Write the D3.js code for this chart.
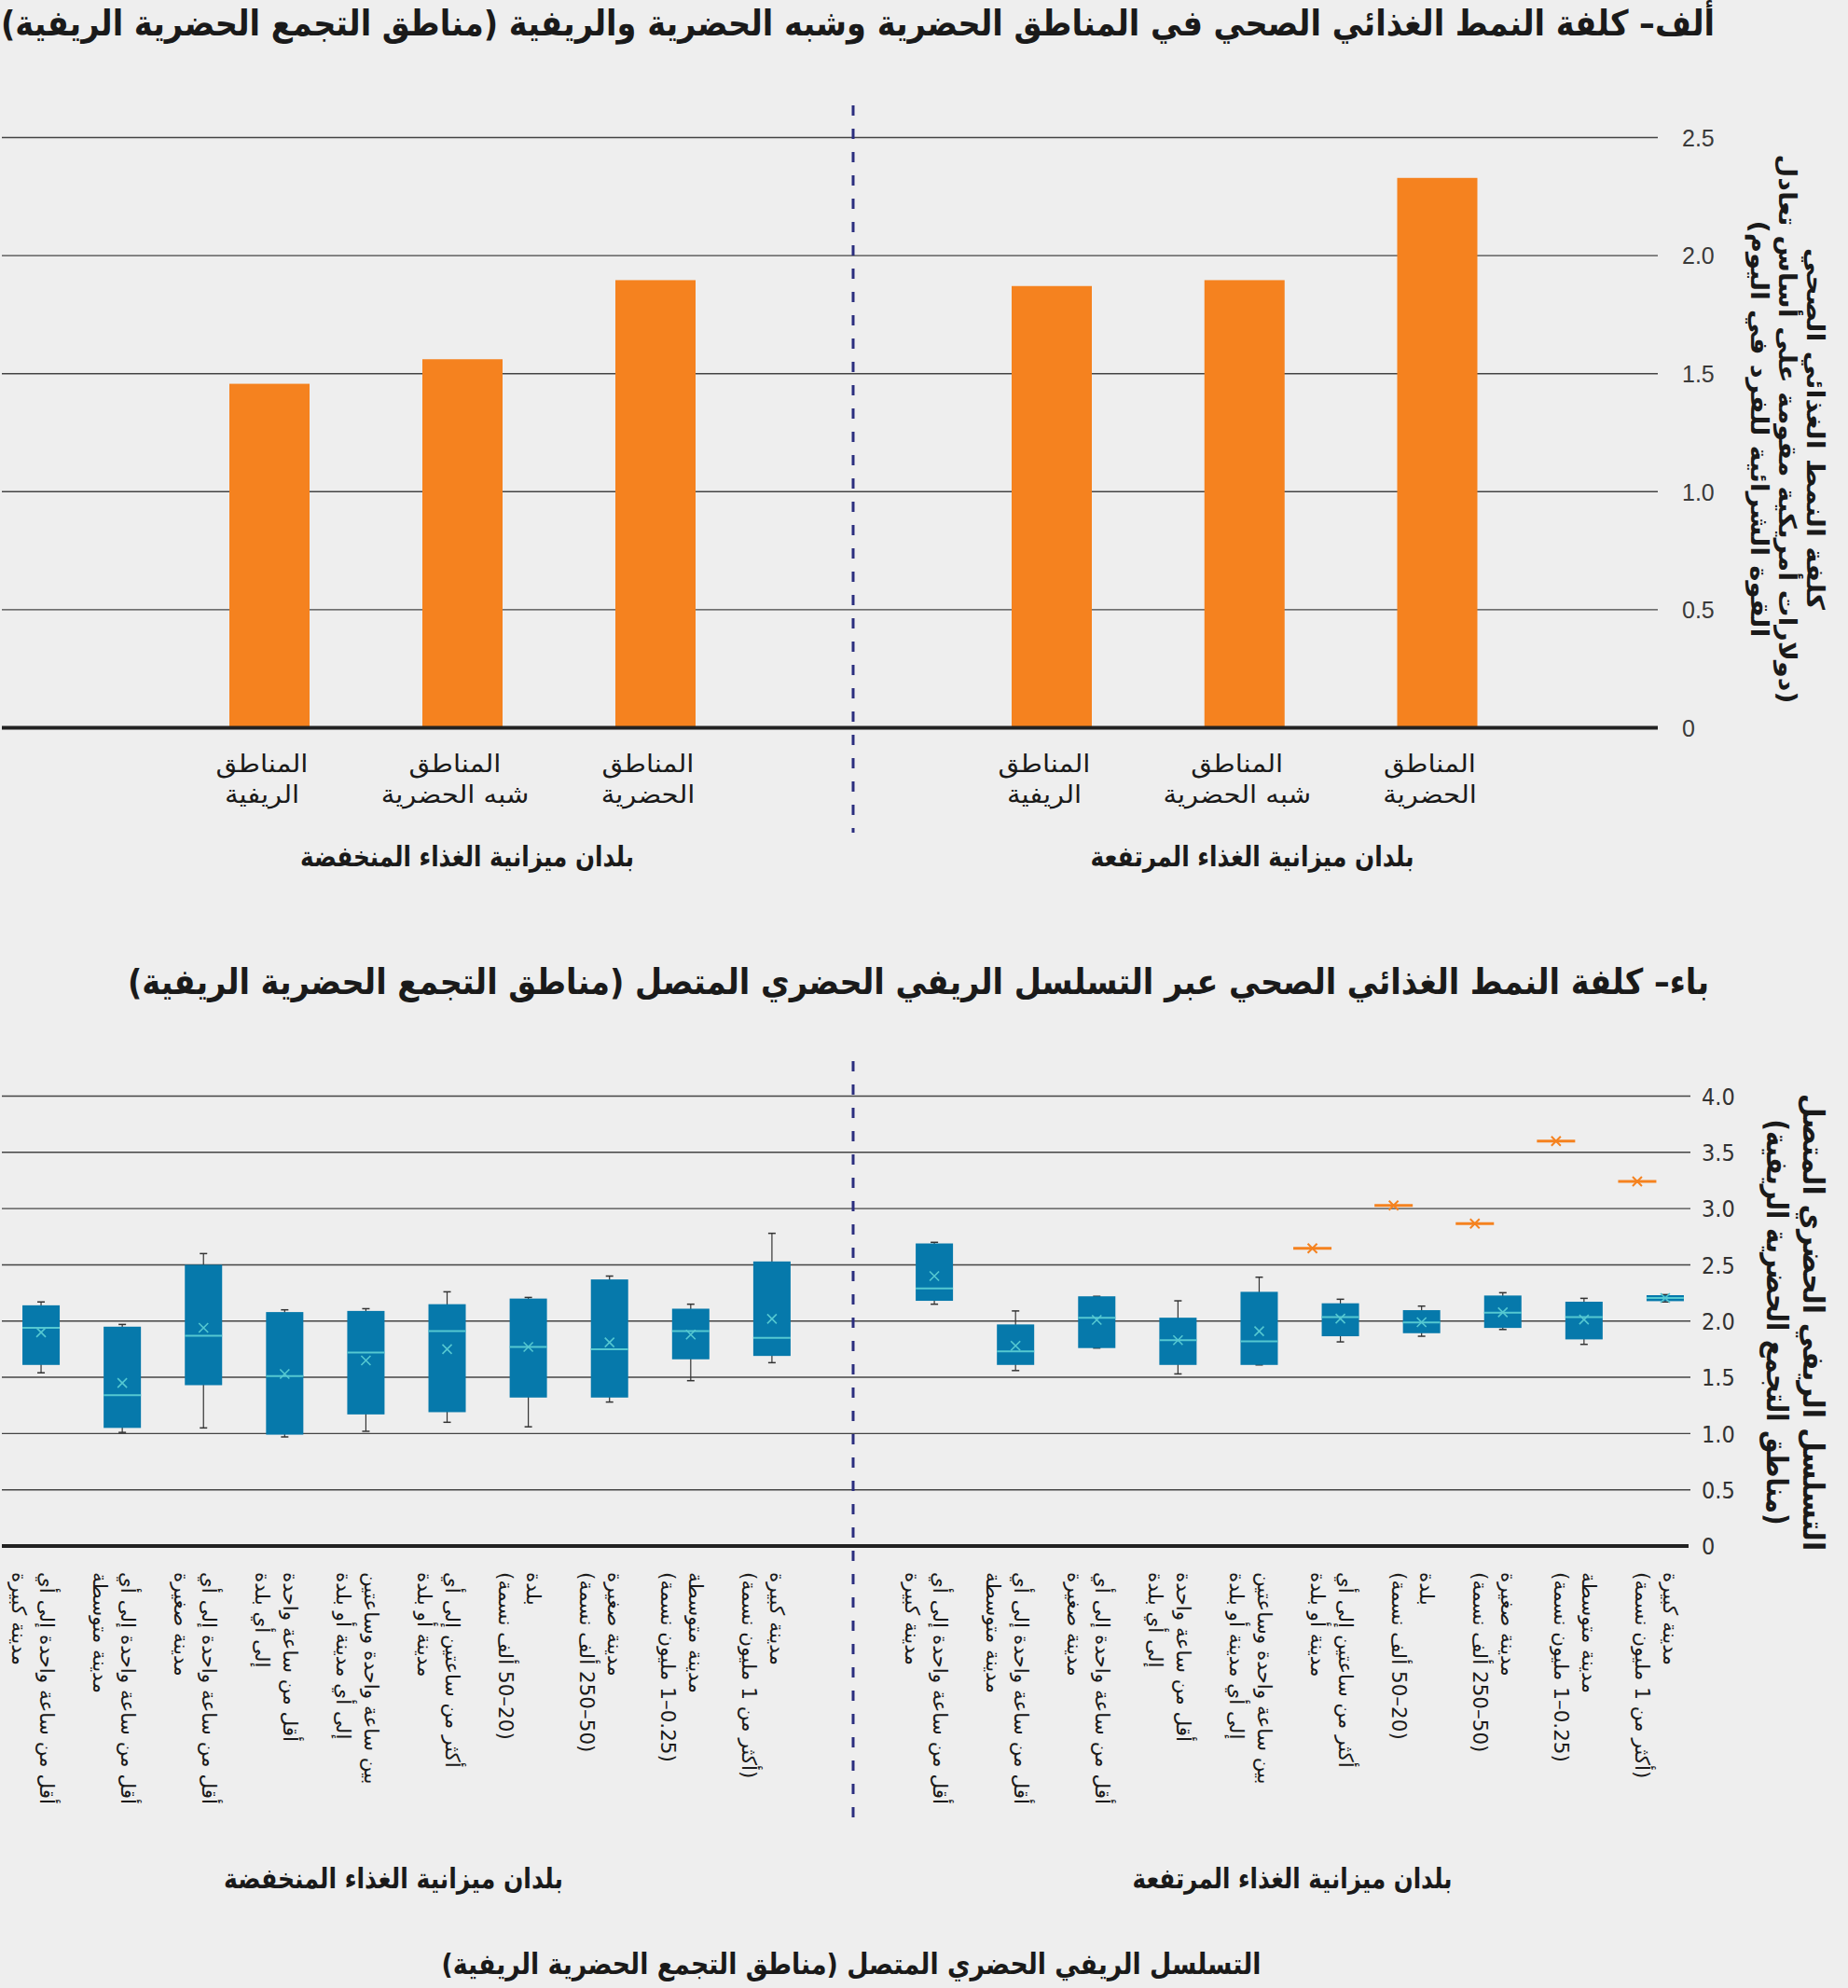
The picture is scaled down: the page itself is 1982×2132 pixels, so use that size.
<!DOCTYPE html>
<html><head><meta charset="utf-8">
<script src="https://cdn.jsdelivr.net/npm/d3@7"></script>
<style>
html,body{margin:0;padding:0;background:#eeeeee;}
svg{display:block;}
</style></head><body>
<svg id="c" width="1982" height="2132"></svg>
<script>
// ---------------- data ----------------
const titleA = "ألف– كلفة النمط الغذائي الصحي في المناطق الحضرية وشبه الحضرية والريفية (مناطق التجمع الحضرية الريفية)";
const titleB = "باء– كلفة النمط الغذائي الصحي عبر التسلسل الريفي الحضري المتصل (مناطق التجمع الحضرية الريفية)";
const groupNames = ["بلدان ميزانية الغذاء المنخفضة", "بلدان ميزانية الغذاء المرتفعة"];
const areaCategories = [["المناطق", "الريفية"], ["المناطق", "شبه الحضرية"], ["المناطق", "الحضرية"]];
const costLowBudget = [1.457, 1.561, 1.896];
const costHighBudget = [1.871, 1.896, 2.329];
const yTicksA = [0, 0.5, 1.0, 1.5, 2.0, 2.5];
const yTitleA = ["كلفة النمط الغذائي الصحي", "(دولارات أمريكية مقومة على أساس تعادل", "القوة الشرائية للفرد في اليوم)"];

const continuumCategories = [
  ["أقل من ساعة واحدة إلى أي", "مدينة كبيرة"],
  ["أقل من ساعة واحدة إلى أي", "مدينة متوسطة"],
  ["أقل من ساعة واحدة إلى أي", "مدينة صغيرة"],
  ["أقل من ساعة واحدة", "إلى أي بلدة"],
  ["بين ساعة واحدة وساعتين", "إلى أي مدينة أو بلدة"],
  ["أكثر من ساعتين إلى أي", "مدينة أو بلدة"],
  ["بلدة", "(20–50 ألف نسمة)"],
  ["مدينة صغيرة", "(50–250 ألف نسمة)"],
  ["مدينة متوسطة", "(0.25–1 مليون نسمة)"],
  ["مدينة كبيرة", "(أكثر من 1 مليون نسمة)"]
];
// [whisker low, Q1, median, Q3, whisker high, mean]
const boxLowBudget = [
  [1.54, 1.61, 1.94, 2.14, 2.17, 1.90],
  [1.01, 1.05, 1.34, 1.95, 1.97, 1.45],
  [1.05, 1.43, 1.87, 2.50, 2.60, 1.94],
  [0.97, 0.99, 1.51, 2.08, 2.10, 1.53],
  [1.02, 1.17, 1.72, 2.09, 2.11, 1.65],
  [1.10, 1.19, 1.91, 2.15, 2.26, 1.75],
  [1.06, 1.32, 1.77, 2.20, 2.21, 1.77],
  [1.28, 1.32, 1.75, 2.37, 2.40, 1.81],
  [1.47, 1.66, 1.91, 2.11, 2.15, 1.88],
  [1.63, 1.69, 1.85, 2.53, 2.78, 2.02]
];
const boxHighBudget = [
  [2.15, 2.18, 2.29, 2.69, 2.70, 2.40],
  [1.56, 1.61, 1.73, 1.97, 2.09, 1.78],
  [1.76, 1.76, 2.03, 2.22, 2.22, 2.01],
  [1.53, 1.61, 1.83, 2.03, 2.18, 1.83],
  [1.61, 1.61, 1.82, 2.26, 2.39, 1.91],
  [1.815, 1.865, 2.036, 2.158, 2.194, 2.022],
  [1.865, 1.892, 1.987, 2.097, 2.133, 1.99],
  [1.925, 1.939, 2.075, 2.227, 2.252, 2.078],
  [1.793, 1.837, 2.036, 2.172, 2.202, 2.014],
  [2.17, 2.177, 2.205, 2.230, 2.235, 2.205]
];
const outlierHighBudget = [null, null, null, null, null, 2.647, 3.028, 2.866, 3.600, 3.241];
const yTicksB = [0, 0.5, 1.0, 1.5, 2.0, 2.5, 3.0, 3.5, 4.0];
const yTitleB = ["التسلسل الريفي الحضري المتصل", "(مناطق التجمع الحضرية الريفية)"];
const xTitleB = "التسلسل الريفي الحضري المتصل (مناطق التجمع الحضرية الريفية)";

// ---------------- styles ----------------
const AR = "'DejaVu Sans Condensed', 'DejaVu Sans', sans-serif";
const AR2 = "'DejaVu Sans', sans-serif";
const ORANGE = "#f5821f", BLUE = "#0679ab", CYAN = "#55c8d1", NAVY = "#2b2e7e", GRID = "#444";

const svg = d3.select("#c");
svg.append("rect").attr("width", 1982).attr("height", 2132).attr("fill", "#eeeeee");

function arText(g, txt, x, y, opts) {
  const t = g.append("text").attr("x", x).attr("y", y)
    .attr("direction", "rtl").attr("text-anchor", "middle")
    .attr("font-family", opts.family || AR).attr("font-size", opts.size)
    .attr("font-weight", opts.weight || "normal").attr("fill", opts.fill || "#1a1a1a")
    .text(txt);
  if (opts.baseline) t.attr("dominant-baseline", opts.baseline);
  if (opts.len) t.attr("textLength", opts.len).attr("lengthAdjust", "spacingAndGlyphs");
  if (opts.stretch) {
    const L = t.node().getComputedTextLength();
    t.attr("textLength", L * opts.stretch).attr("lengthAdjust", "spacingAndGlyphs");
  }
  if (opts.transform) t.attr("transform", opts.transform);
  return t;
}

// ================= Chart A =================
const gA = svg.append("g");
const yA = d3.scaleLinear().domain([0, 2.5]).range([780.5, 147.5]);
const xLowA = d3.scalePoint().domain(d3.range(areaCategories.length)).range([289, 703]);
const xHighA = d3.scalePoint().domain(d3.range(areaCategories.length)).range([1128, 1541.5]);

arText(gA, titleA, 920, 38, {size: 38, weight: "bold", len: 1838});

// gridlines + ticks
const axA = d3.axisRight(yA).tickValues(yTicksA).tickSize(0).tickPadding(0)
  .tickFormat(d => d === 0 ? "0" : d3.format(".1f")(d));
const axAG = gA.append("g").attr("transform", "translate(1804,0)").call(axA);
axAG.select(".domain").remove();
axAG.selectAll("text").attr("font-family", "'Liberation Sans', Arial, sans-serif")
  .attr("font-size", 25).attr("fill", "#3a3a3a").attr("x", 0).attr("dy", "0.35em");
gA.append("g").selectAll("line").data(yTicksA.filter(d => d > 0)).join("line")
  .attr("x1", 2).attr("x2", 1778).attr("y1", d => yA(d)).attr("y2", d => yA(d))
  .attr("stroke", GRID).attr("stroke-width", 1.4);

// bars
const barW = 86;
[[costLowBudget, xLowA], [costHighBudget, xHighA]].forEach(([vals, sx]) => {
  gA.append("g").selectAll("rect").data(vals).join("rect")
    .attr("x", (d, i) => sx(i) - barW / 2).attr("width", barW)
    .attr("y", d => yA(d)).attr("height", d => yA(0) - yA(d))
    .attr("fill", ORANGE);
  // category labels
  areaCategories.forEach((lines, i) => {
    lines.forEach((ln, j) => arText(gA, ln, sx(i) - 8, 828 + j * 33, {size: 26.5, stretch: 1.22}));
  });
});
gA.append("line").attr("x1", 2).attr("x2", 1778).attr("y1", yA(0)).attr("y2", yA(0))
  .attr("stroke", "#222").attr("stroke-width", 4);
// divider
gA.append("line").attr("x1", 915).attr("x2", 915).attr("y1", 113).attr("y2", 893)
  .attr("stroke", NAVY).attr("stroke-width", 3).attr("stroke-dasharray", "11,14");
// group labels
arText(gA, groupNames[0], 501, 929, {size: 30, weight: "bold", len: 358});
arText(gA, groupNames[1], 1343, 929, {size: 30, weight: "bold", len: 347});
// y title
const yTitleAX = [1947, 1917, 1887];
const yTitleALen = [388, 589, 447];
yTitleA.forEach((ln, j) => arText(gA, ln, 0, 0, {size: 26, family: AR2, weight: "bold", baseline: "central",
  len: yTitleALen[j], transform: `translate(${yTitleAX[j]},460) rotate(90)`}));

// ================= Chart B =================
const gB = svg.append("g");
const yB = d3.scaleLinear().domain([0, 4]).range([1658, 1175.5]);
const slots = d3.range(21);
const xB = d3.scaleBand().domain(slots).range([0.5, 1829.5]).padding(0);
const cx = s => xB(s) + xB.bandwidth() / 2;
const lowSlots = d3.range(10), highSlots = d3.range(11, 21);

arText(gB, titleB, 985, 1066, {size: 38, weight: "bold", len: 1696});

const axB = d3.axisRight(yB).tickValues(yTicksB).tickSize(0).tickPadding(0)
  .tickFormat(d => d === 0 ? "0" : d3.format(".1f")(d));
const axBG = gB.append("g").attr("transform", "translate(1825,0)").call(axB);
axBG.select(".domain").remove();
axBG.selectAll("text").attr("font-family", "'Liberation Sans Narrow', 'DejaVu Sans Condensed', sans-serif")
  .attr("font-size", 25).attr("fill", "#333").attr("x", 0).attr("dy", "0.35em");
gB.append("g").selectAll("line").data(yTicksB.filter(d => d > 0)).join("line")
  .attr("x1", 2).attr("x2", 1813).attr("y1", d => yB(d)).attr("y2", d => yB(d))
  .attr("stroke", GRID).attr("stroke-width", 1.4);

const boxW = 40, capW = 8;
function drawBoxes(data, slotIdx) {
  const g = gB.append("g");
  data.forEach((b, i) => {
    const c = cx(slotIdx[i]);
    const [wl, q1, med, q3, wh, mean] = b;
    g.append("line").attr("x1", c).attr("x2", c).attr("y1", yB(wh)).attr("y2", yB(wl))
      .attr("stroke", "#333").attr("stroke-width", 1.2);
    [wl, wh].forEach(v => g.append("line").attr("x1", c - capW / 2).attr("x2", c + capW / 2)
      .attr("y1", yB(v)).attr("y2", yB(v)).attr("stroke", "#333").attr("stroke-width", 1.5));
    g.append("rect").attr("x", c - boxW / 2).attr("width", boxW)
      .attr("y", yB(q3)).attr("height", Math.max(yB(q1) - yB(q3), 2)).attr("fill", BLUE);
    g.append("line").attr("x1", c - boxW / 2).attr("x2", c + boxW / 2)
      .attr("y1", yB(med)).attr("y2", yB(med)).attr("stroke", CYAN).attr("stroke-width", 2);
    const m = yB(mean), s = 5;
    g.append("path").attr("d", `M${c - s},${m - s}L${c + s},${m + s}M${c - s},${m + s}L${c + s},${m - s}`)
      .attr("stroke", CYAN).attr("stroke-width", 1.6).attr("fill", "none");
  });
}
drawBoxes(boxLowBudget, lowSlots);
drawBoxes(boxHighBudget, highSlots);

// outlier markers (orange)
const og = gB.append("g");
outlierHighBudget.forEach((v, i) => {
  if (v == null) return;
  const c = cx(highSlots[i]) - 30, y = yB(v), s = 5;
  og.append("line").attr("x1", c - 20.5).attr("x2", c + 20.5).attr("y1", y).attr("y2", y)
    .attr("stroke", ORANGE).attr("stroke-width", 3);
  og.append("path").attr("d", `M${c - s},${y - s}L${c + s},${y + s}M${c - s},${y + s}L${c + s},${y - s}`)
    .attr("stroke", ORANGE).attr("stroke-width", 2).attr("fill", "none");
});

gB.append("line").attr("x1", 2).attr("x2", 1811).attr("y1", yB(0)).attr("y2", yB(0))
  .attr("stroke", "#222").attr("stroke-width", 4);
gB.append("line").attr("x1", cx(10)).attr("x2", cx(10)).attr("y1", 1138).attr("y2", 1962)
  .attr("stroke", NAVY).attr("stroke-width", 3).attr("stroke-dasharray", "11,14");

// rotated category labels
const labTop = 1686;
[lowSlots, highSlots].forEach(sl => {
  continuumCategories.forEach((lines, i) => {
    const c = cx(sl[i]);
    lines.forEach((ln, j) => {
      const xx = c + (j === 0 ? 6 : -24);
      const t = arText(gB, ln, 0, 0, {size: 21.5, family: AR2, baseline: "central"});
      const L = t.node().getComputedTextLength();
      t.attr("transform", `translate(${xx},${labTop + L / 2}) rotate(90)`);
    });
  });
});

arText(gB, groupNames[0], 422, 2025, {size: 30, weight: "bold", len: 364});
arText(gB, groupNames[1], 1386, 2025, {size: 30, weight: "bold", len: 343});
arText(gB, xTitleB, 913, 2117, {size: 31, weight: "bold", len: 879});

const yTitleBX = [1945, 1906];
const yTitleBLen = [490, 435];
yTitleB.forEach((ln, j) => arText(gB, ln, 0, 0, {size: 32, family: AR2, weight: "bold", baseline: "central",
  len: yTitleBLen[j], transform: `translate(${yTitleBX[j]},1418) rotate(90)`}));
</script>
</body></html>
